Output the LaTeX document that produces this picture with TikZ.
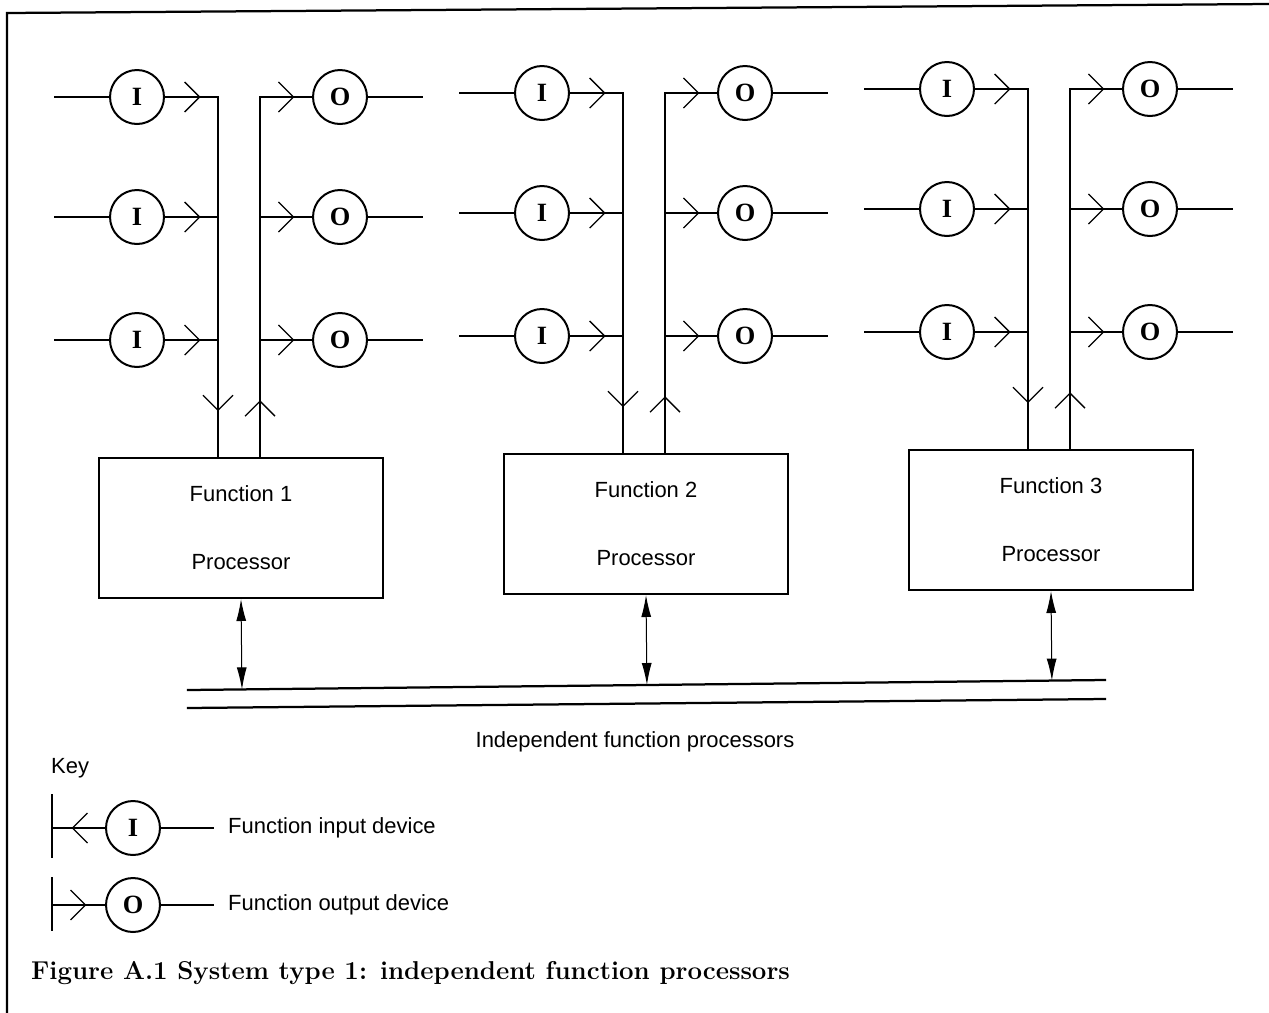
\documentclass[tikz,border=0pt]{standalone}
\usepackage{fontspec}
\setsansfont{Liberation Sans}
\newfontfamily\devfont{Liberation Serif}
\usetikzlibrary{positioning, arrows.meta, decorations.markings, calc}
\tikzset{
  x=0.02cm, y=-0.02cm,
  dev/.style={
      circle,
      draw,
      line width=0.4mm,
      minimum size=10.8mm,
      inner sep=0pt,
      font=\devfont\bfseries\fontsize{15}{15}\selectfont
    },
  proc/.style={
      rectangle,
      draw,
      line width=0.4mm,
      minimum width=56.8mm,
      minimum height=28mm
    },
  txt/.style={
      font=\sffamily\fontsize{12.5}{15}\selectfont
    },
  wire/.style={
      line width=0.45mm,
      line cap=rect
    },
  chev/.style={
      wire,
      decoration={markings, mark=at position #1 with {\arrow[line width=0.25mm]{Straight Barb[length=3mm, width=6mm]}}},
      postaction={decorate}
    },
  link/.style={
      {Latex[length=4.4mm, width=2mm]}-{Latex[length=4.4mm, width=2mm]},
      line width=0.2mm
    }
}

\begin{document}
\begin{tikzpicture}
  \useasboundingbox (0,0) rectangle (1269,1012);
  \draw[wire] (7,1012) -- (7,13) -- (1269,4);
  % bus
  \coordinate (busa) at (188,690); \coordinate (busb) at (1105,680);
  \coordinate (busc) at (188,708); \coordinate (busd) at (1105,699);
  \draw[wire] (busa) -- (busb);
  \draw[wire] (busc) -- (busd);
  \node[txt] (bustxt) at (635,742) {Independent function processors};
  \foreach \k/\dy in {1/4, 2/0, 3/-4} {
    \pgfmathsetmacro{\xi}{137+405*(\k-1)}
    \node[proc] (bx\k) at (\xi+104, 524+\dy) {};
    \node[txt] (fn\k) at (\xi+104, 490+\dy) {Function \k};
    \node[txt] (pr\k) at (\xi+104, 558+\dy) {Processor};
    \coordinate (in\k) at (\xi+81, 454+\dy);
    \coordinate (out\k) at (\xi+123, 454+\dy);
    \foreach \r/\yy in {1/93, 2/213, 3/336} {
      \pgfmathsetmacro{\yr}{\yy+\dy}
      \node[dev] (i\k-\r) at (\xi, \yr) {I};
      \node[dev] (o\k-\r) at (\xi+203, \yr) {O};
      \coordinate (a\k-\r) at (\xi-82, \yr);
      \coordinate (b\k-\r) at (\xi+285, \yr);
      \draw[wire] (a\k-\r) -- (i\k-\r);
      \draw[chev=0.67] (i\k-\r) -- (i\k-\r -| in\k);
      \draw[chev=0.66] (o\k-\r -| out\k) -- (o\k-\r);
      \draw[wire] (o\k-\r) -- (b\k-\r);
    }
    \draw[chev=0.87] (i\k-1 -| in\k) -- (in\k);
    \draw[chev=0.16] (out\k) -- (o\k-1 -| out\k);
    \draw[link] (bx\k.south) -- ($(busa)!(bx\k.south)!(busb)$);
  }
  % key
  \node[txt, anchor=west] (key) at (45,768) {Key};
  \coordinate (t1a) at (52,795); \coordinate (t1b) at (52,857);
  \coordinate (t2a) at (52,878); \coordinate (t2b) at (52,930);
  \draw[wire] (t1a) -- (t1b);
  \draw[wire] (t2a) -- (t2b);
  \node[dev] (ki) at (133,828) {I};
  \node[dev] (ko) at (133,905) {O};
  \coordinate (ke1) at (213,828); \coordinate (ke2) at (213,905);
  \draw[chev=0.63] (ki) -- (ki -| t1a);
  \draw[chev=0.65] (ko -| t2a) -- (ko);
  \draw[wire] (ki) -- (ke1);
  \draw[wire] (ko) -- (ke2);
  \node[txt, anchor=west] (kit) at (222,828) {Function input device};
  \node[txt, anchor=west] (kot) at (222,905) {Function output device};
  \node[anchor=west, font=\bfseries\fontsize{14.7}{17}\selectfont] (cap) at (25,973) {Figure A.1 System type 1: independent function processors};
\end{tikzpicture}
\end{document}
